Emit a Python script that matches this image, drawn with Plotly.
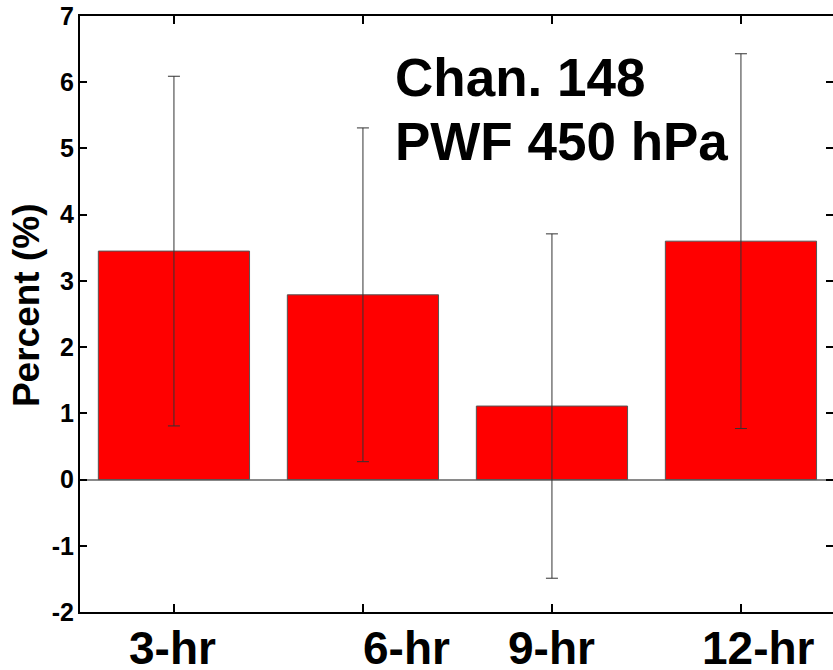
import plotly.graph_objects as go

# Forecast lead times and their percentage impact, with symmetric uncertainty
categories = ["3-hr", "6-hr", "9-hr", "12-hr"]
percent = [3.45, 2.79, 1.11, 3.60]
err = [2.64, 2.52, 2.60, 2.83]
y_ticks = [-2, -1, 0, 1, 2, 3, 4, 5, 6, 7]
y_tick_text = ["-2", "-1", "0", "1", "2", "3", "4", "5", "6", "7"]
# horizontal placement of the category labels (in category units)
label_pos = [-0.01, 1.23, 2.0, 3.095]

FONT = "Arial, Liberation Sans, sans-serif"
xpos = list(range(len(categories)))

fig = go.Figure()
fig.add_trace(go.Bar(
    x=xpos, y=percent, width=0.8,
    marker=dict(color="#ff0000", line=dict(color="#555555", width=1)),
    error_y=dict(type="data", array=err, visible=True,
                 color="#333333", thickness=1, width=6),
    showlegend=False, hoverinfo="skip",
))
# invisible trace carrying the right-hand tick axis
fig.add_trace(go.Scatter(x=[0], y=[0], yaxis="y2", mode="markers",
                         marker=dict(opacity=0), showlegend=False,
                         hoverinfo="skip"))

fig.update_layout(
    width=833, height=670,
    margin=dict(l=80, r=0, t=16, b=58),
    plot_bgcolor="white", paper_bgcolor="white",
    xaxis=dict(range=[-0.497, 3.487], tickvals=xpos, ticktext=[""] * 4,
               ticks="inside", ticklen=8, tickwidth=2, tickcolor="black",
               showline=True, linecolor="black", linewidth=2,
               mirror="ticks", showgrid=False, zeroline=False,
               automargin=False),
    yaxis=dict(range=[-2, 7], tickvals=y_ticks, ticktext=y_tick_text,
               ticks="inside", ticklen=7, tickwidth=2, tickcolor="black",
               showline=True, linecolor="black", linewidth=2,
               showgrid=False, zeroline=True, zerolinecolor="#8a8a8a",
               zerolinewidth=1.5, ticklabelstandoff=-1,
               tickfont=dict(family=FONT, size=25, color="black", weight="bold"),
               automargin=False),
    yaxis2=dict(range=[-2, 7], tickvals=y_ticks, overlaying="y", side="right",
                ticks="inside", ticklen=7, tickwidth=2, tickcolor="black",
                showline=False, showgrid=False, zeroline=False,
                showticklabels=False, automargin=False),
)

annotations = [
    dict(text="Percent (%)", textangle=-90, xref="paper", yref="paper",
         x=-0.0717, y=0.515, xanchor="center", yanchor="middle",
         showarrow=False,
         font=dict(family=FONT, size=37, color="black", weight="bold")),
    dict(text="Chan. 148", xref="paper", yref="paper", x=0.4157, y=0.896,
         xanchor="left", yanchor="middle", showarrow=False,
         font=dict(family=FONT, size=53, color="black", weight="bold")),
    dict(text="PWF 450 hPa", xref="paper", yref="paper", x=0.4157, y=0.789,
         xanchor="left", yanchor="middle", showarrow=False,
         font=dict(family=FONT, size=53, color="black", weight="bold")),
]
for lbl, pos in zip(categories, label_pos):
    annotations.append(dict(
        text=lbl, xref="x", yref="paper", x=pos, y=-0.0596,
        xanchor="center", yanchor="middle", showarrow=False,
        font=dict(family=FONT, size=46, color="black", weight="bold")))
fig.update_layout(annotations=annotations)

fig.write_html("out.html")
